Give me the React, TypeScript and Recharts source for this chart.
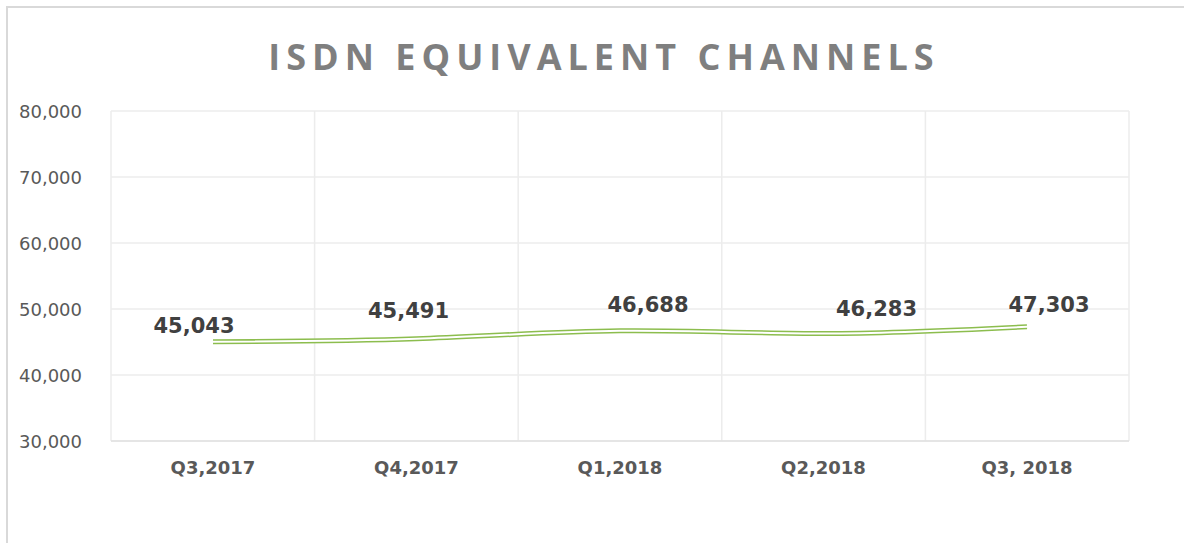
import React from 'react';
import { LineChart, Line, XAxis, YAxis, CartesianGrid, LabelList } from 'recharts';

// Quarterly ISDN equivalent channels
const quarters = ['Q3,2017', 'Q4,2017', 'Q1,2018', 'Q2,2018', 'Q3, 2018'];
const channels = [45043, 45491, 46688, 46283, 47303];
const yTicks = [30000, 40000, 50000, 60000, 70000, 80000];

// label nudges (Excel labels were dragged by hand)
const labelNudge = [
  { dx: -19, dy: -16 },
  { dx: -8, dy: -28 },
  { dx: 28, dy: -26 },
  { dx: 53, dy: -25 },
  { dx: 22, dy: -22 },
];

const data = quarters.map((q, i) => ({ quarter: q, value: channels[i] }));

const fmt = (v: number) => v.toLocaleString('en-US');

const renderLabel = (props: any) => {
  const { x, y, value, index } = props;
  const n = labelNudge[index] || { dx: 0, dy: -20 };
  return (
    <text
      x={x + n.dx}
      y={y + n.dy}
      textAnchor="middle"
      dominantBaseline="central"
      fontFamily="DejaVu Sans"
      fontWeight="bold"
      fontSize={21}
      fill="#404040"
    >
      {fmt(value)}
    </text>
  );
};

const YTick = ({ y, payload }: any) => (
  <text x={82} y={y} textAnchor="end" dominantBaseline="central" fontFamily="DejaVu Sans" fontSize={18} fill="#595959">
    {fmt(payload.value)}
  </text>
);

const XTick = ({ x, payload }: any) => (
  <text x={x} y={467} textAnchor="middle" dominantBaseline="central" fontFamily="DejaVu Sans" fontWeight="bold" fontSize={18} fill="#595959">
    {payload.value}
  </text>
);

export default function App() {
  return (
    <div style={{ position: 'fixed', left: 0, top: 0, width: 1184, height: 543, background: '#fff', overflow: 'hidden' }}>
      <div
        style={{
          position: 'absolute',
          left: 6,
          top: 6,
          width: 1300,
          height: 700,
          borderTop: '2px solid #d9d9d9',
          borderLeft: '2px solid #d9d9d9',
        }}
      />
      <div
        style={{
          position: 'absolute',
          left: 0,
          top: 36,
          width: 1208,
          textAlign: 'center',
          fontFamily: 'Open Sans',
          fontWeight: 700,
          fontSize: 36,
          letterSpacing: 6,
          color: '#7f7f7f',
          lineHeight: '42px',
        }}
      >
        ISDN EQUIVALENT CHANNELS
      </div>
      <div style={{ position: 'absolute', left: 0, top: 0 }}>
        <LineChart width={1184} height={543} data={data} margin={{ top: 111, right: 55, bottom: 0, left: 0 }}>
          <CartesianGrid
            stroke="#ececec"
            strokeWidth={1.5}
            verticalCoordinatesGenerator={({ offset }: any) =>
              [0, 1, 2, 3, 4, 5].map((i) => offset.left + (i * offset.width) / quarters.length)
            }
          />
          <XAxis
            dataKey="quarter"
            height={102}
            tick={<XTick />}
            tickLine={false}
            axisLine={{ stroke: '#e0e0e0', strokeWidth: 1.5 }}
            interval={0}
            padding={{ left: 102, right: 102 }}
          />
          <YAxis domain={[30000, 80000]} ticks={yTicks} width={111} tick={<YTick />} tickLine={false} axisLine={false} />
          <Line type="natural" dataKey="value" stroke="#8cbd4e" strokeWidth={5} dot={false} isAnimationActive={false} />
          <Line type="natural" dataKey="value" stroke="#ffffff" strokeWidth={2} dot={false} isAnimationActive={false}>
            <LabelList dataKey="value" content={renderLabel} />
          </Line>
        </LineChart>
      </div>
    </div>
  );
}
